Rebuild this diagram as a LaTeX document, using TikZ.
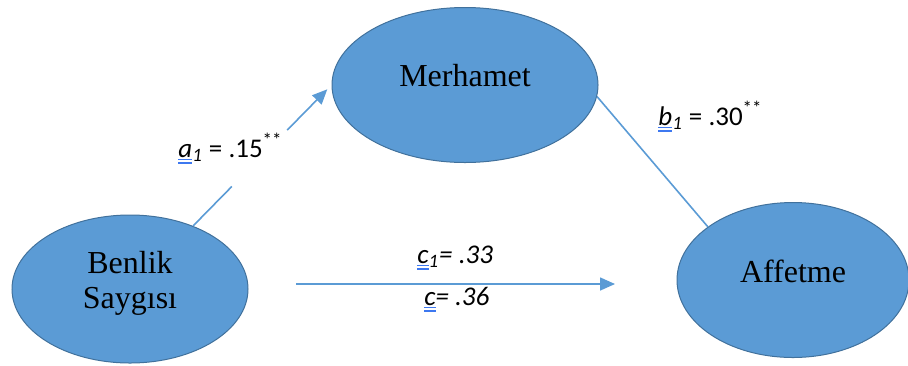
\documentclass[tikz,border=0pt]{standalone}
\usepackage{fontspec}
\setmainfont{Liberation Serif}
\newfontfamily\labfont{Carlito}
\usetikzlibrary{shapes.geometric,arrows.meta,calc}
\definecolor{ellfill}{HTML}{5B9BD5}
\definecolor{elledge}{HTML}{41719C}
\definecolor{conncol}{HTML}{5B9BD5}
\definecolor{ulcol}{HTML}{3D78F0}
\newcommand\dblul[1]{\setbox0\hbox{#1}\rlap{\textcolor{ulcol}{\raisebox{-1.5pt}{\rule{\wd0}{0.7pt}}}}\rlap{\textcolor{ulcol}{\raisebox{-3.4pt}{\rule{\wd0}{0.7pt}}}}\box0}
\tikzset{
  ell/.style={ellipse, draw=elledge, line width=0.5pt, fill=ellfill, inner sep=0pt},
  ntext/.style={font=\fontsize{16}{17.5}\selectfont, text=black, align=center, inner sep=0pt},
  conn/.style={draw=conncol, line width=0.8pt},
  tip/.style={-{Triangle[length=7.5pt,width=6.5pt]}},
  lab/.style={font=\labfont\fontsize{13.5}{15}\selectfont, anchor=base west, inner sep=0pt, text=black}
}
\begin{document}
\begin{tikzpicture}[x=0.5pt,y=-0.5pt]
\useasboundingbox (0,0) rectangle (908,365);
% ellipses
\node[ell, minimum width=133pt, minimum height=77.5pt] (m) at (465,85) {};
\node[ell, minimum width=118pt, minimum height=74pt] (b) at (130,289) {};
\node[ell, minimum width=116pt, minimum height=77.5pt] (f) at (793,280) {};
% texts
\node[ntext] (mt) at (465,76) {Merhamet};
\node[ntext] (bt) at (130,283) {Benlik\\Saygısı};
\node[ntext] (ft) at (793,271) {Affetme};
% connectors
\draw[conn] (b.45) -- ($(b.45)!0.28!(m.west)$);
\draw[conn,tip,shorten >=3pt] ($(b.45)!0.68!(m.west)$) -- (m.west);
\draw[conn] (m.-5) -- (f.148.5);
\coordinate (cs) at (296,284);
\coordinate (ce) at (615,284);
\draw[conn,tip] (cs) -- (ce);
% labels
\node[lab] (la) at (178,157) {\dblul{\textit{a}}\textsubscript{\textit{1}} = .15\textsuperscript{**}};
\node[lab] (lb) at (658,125) {\dblul{\textit{b}}\textsubscript{\textit{1}} = .30\textsuperscript{**}};
\node[lab] (lc1) at (417,263) {\itshape\dblul{c}\textsubscript{1}= .33};
\node[lab] (lc) at (424,305) {\itshape\dblul{c}= .36};
\end{tikzpicture}
\end{document}
